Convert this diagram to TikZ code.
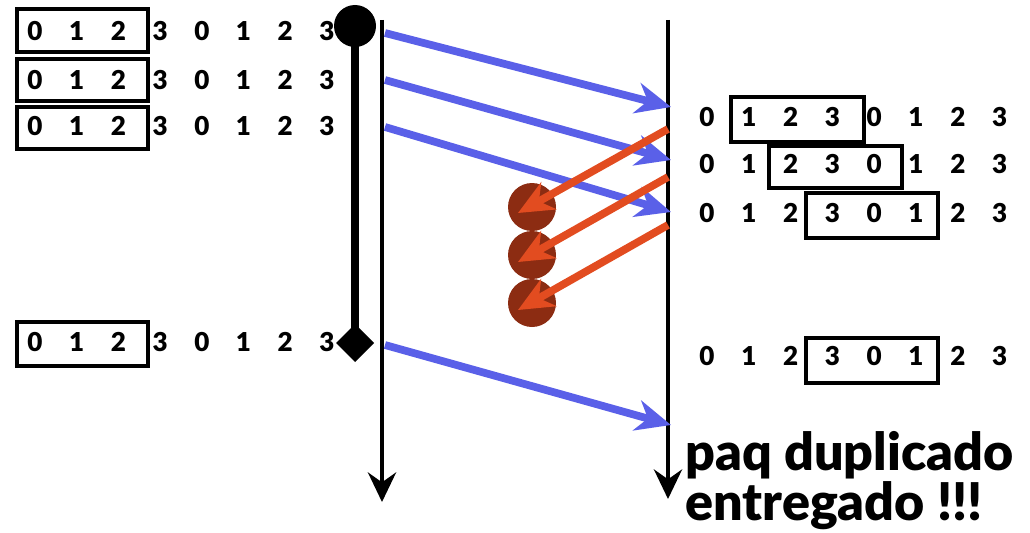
\documentclass[tikz,border=0pt]{standalone}
\usepackage{fontspec}
\setmainfont{Lato}[BoldFont={Lato Black}]
\usetikzlibrary{arrows.meta}

\definecolor{segblue}{RGB}{90,96,232}
\definecolor{ackred}{RGB}{226,76,32}
\definecolor{lostred}{RGB}{140,44,18}

\tikzset{
  dig/.style={font=\fontsize{18.5}{20}\selectfont\bfseries, inner sep=0pt},
  win/.style={draw, line width=2.8pt},
  seg/.style={segblue, line width=5.5pt, -{Stealth[length=25pt,width=22pt,inset=8pt]}},
  ack/.style={ackred, line width=5.5pt, -{Stealth[length=25pt,width=22pt,inset=8pt]}},
  tline/.style={line width=2.8pt, -{Stealth[length=21pt,width=20pt,inset=7pt]}},
  note/.style={font=\fontsize{37}{40}\selectfont\bfseries, inner sep=0pt, anchor=base west},
}

\begin{document}
\begin{tikzpicture}[x=0.025cm,y=-0.025cm]
\useasboundingbox (0,0) rectangle (1030,532);

% sender sequence numbers
\foreach \y [count=\r] in {31,80,126,342}
  \foreach \d [count=\i from 0] in {0,1,2,3,0,1,2,3}
    \node[dig] (s\r-\i) at ({35+41.7*\i},\y) {\d};
\draw[win] (17,9) rectangle (148,52);
\draw[win] (17,59) rectangle (148,101);
\draw[win] (17,107) rectangle (148,149);
\draw[win] (17,322) rectangle (148,366);

% receiver sequence numbers
\foreach \y [count=\r] in {117,164,213,356}
  \foreach \d [count=\i from 0] in {0,1,2,3,0,1,2,3}
    \node[dig] (r\r-\i) at ({707+41.8*\i},\y) {\d};
\draw[win, line width=2.2pt] (731,97) rectangle (864,142);
\draw[win, line width=2.2pt] (769,146) rectangle (902,188);
\draw[win, line width=2.2pt] (806,193) rectangle (938,238);
\draw[win, line width=2.2pt] (806,338) rectangle (938,383);

% timer
\draw[line width=5.7pt] (355,26) -- (355,343);
\fill (355,26) circle[radius=21];
\fill (355,324) -- (374,343) -- (355,362) -- (336,343) -- cycle;

% time lines
\coordinate (stop) at (382,20);
\coordinate (sbot) at (382,502);
\coordinate (rtop) at (668,20);
\coordinate (rbot) at (668,499);
\draw[tline] (stop) -- (sbot);
\draw[tline] (rtop) -- (rbot);

% segments
\coordinate (a1) at (385,33);  \coordinate (b1) at (671,107);
\coordinate (a2) at (385,80);  \coordinate (b2) at (671,160);
\coordinate (a3) at (385,127); \coordinate (b3) at (671,212);
\coordinate (a4) at (385,345); \coordinate (b4) at (671,425);
\foreach \k in {1,...,4}
  \draw[seg] (a\k) -- (b\k);

% lost acks
\foreach \y [count=\k] in {207,255,303}
  \fill[lostred] (532,\y) circle[radius=24];
\coordinate (c1) at (668,129); \coordinate (d1) at (518,213);
\coordinate (c2) at (668,177); \coordinate (d2) at (518,262);
\coordinate (c3) at (668,225); \coordinate (d3) at (518,310);
\foreach \k in {1,2,3}
  \draw[ack] (c\k) -- (d\k);

\node[note] (dup1) at (685,470) {paq duplicado};
\node[note] (dup2) at (685,520) {entregado !!!};
\end{tikzpicture}
\end{document}
